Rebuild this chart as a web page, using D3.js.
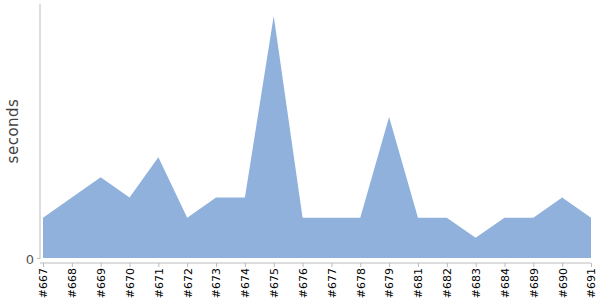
<!DOCTYPE html>
<html>
<head>
<meta charset="utf-8">
<script src="https://cdn.jsdelivr.net/npm/d3@7"></script>
<style>
	body { margin: 0; background: #fff; }
	svg { display: block; }
	.axis path, .axis line { stroke: #bbb; }
</style>
</head>
<body>
<div id="chart"></div>
<script>
const builds = ['#667', '#668', '#669', '#670', '#671', '#672', '#673', '#674', '#675', '#676',
	'#677', '#678', '#679', '#681', '#682', '#683', '#684', '#689', '#690', '#691'];
const seconds = [2, 3, 4, 3, 5, 2, 3, 3, 12, 2, 2, 2, 7, 2, 2, 1, 2, 2, 3, 2];
const yTicks = [0];

const width = 600;
const height = 300;
const font = 'DejaVu Sans, Verdana, sans-serif';

const svg = d3.select('#chart')
	.append('svg')
	.attr('width', width)
	.attr('height', height);

const x = d3.scalePoint()
	.domain(builds)
	.range([43, 591]);

const y = d3.scaleLinear()
	.domain([0, 12.6])
	.range([258, 4]);

const area = d3.area()
	.x((d, i) => x(builds[i]))
	.y0(y(0))
	.y1((d) => y(d));

svg.append('path')
	.datum(seconds)
	.attr('fill', '#8fb1db')
	.attr('d', area);

// y axis
const yAxis = svg.append('g')
	.attr('class', 'axis')
	.attr('transform', 'translate(40,0)')
	.call(d3.axisLeft(y).tickValues(yTicks).tickSize(3).tickSizeOuter(0));
yAxis.select('.domain').attr('d', `M0,${y(12.6)}V${y(0) + 1}`);
yAxis.selectAll('text')
	.attr('x', -6)
	.attr('dy', '0.4em')
	.attr('fill', '#555')
	.attr('font-family', font)
	.attr('font-size', 13);

// x axis
const xAxis = svg.append('g')
	.attr('class', 'axis')
	.attr('transform', 'translate(0,263)')
	.call(d3.axisBottom(x).tickSize(4).tickSizeOuter(0));
xAxis.select('.domain').attr('d', `M40,0H591`);
xAxis.selectAll('text')
	.attr('transform', 'rotate(-90)')
	.attr('text-anchor', 'end')
	.attr('x', -5)
	.attr('y', 0)
	.attr('dy', '0.35em')
	.attr('fill', '#000')
	.attr('font-family', font)
	.attr('font-size', 11);

svg.append('text')
	.attr('transform', 'translate(18,131) rotate(-90)')
	.attr('text-anchor', 'middle')
	.attr('font-family', font)
	.attr('font-size', 15)
	.attr('letter-spacing', 0.5)
	.attr('fill', '#444')
	.text('seconds');
</script>
</body>
</html>
